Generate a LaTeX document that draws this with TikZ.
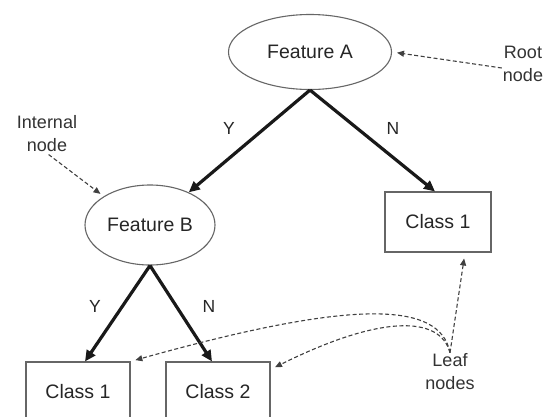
\documentclass[tikz,border=0pt]{standalone}
\usepackage{fontspec}
\setmainfont{Liberation Sans}
\usetikzlibrary{shapes.geometric,arrows.meta}
\begin{document}
\begin{tikzpicture}[x=1pt,y=-1pt,
  txt/.style={text=black!85, font=\fontsize{19.5}{22}\selectfont},
  feat/.style={ellipse, draw=black!60, line width=1.1pt, inner sep=0pt, txt},
  leafbox/.style={rectangle, draw=black!60, line width=1.1pt, minimum width=104pt, minimum height=60pt, inner sep=0pt, txt},
  branch/.style={line width=3.2pt, draw=black!90, -{Triangle[length=11pt,width=10pt]}},
  note/.style={dash pattern=on 4pt off 2.5pt, line width=1.1pt, draw=black!75, -{Triangle[length=7pt,width=6pt]}},
  lbl/.style={text=black!80, align=center, font=\fontsize{18}{23}\selectfont, inner sep=1pt},
  yn/.style={text=black!85, font=\fontsize{17.5}{20}\selectfont}]
\useasboundingbox (0,0) rectangle (544,416);
\fill[white] (0,0) rectangle (544,416);
\begin{scope}
\clip (0,0) rectangle (544,416);
\node[feat, minimum width=163pt, minimum height=75pt] (FA) at (310,52) {Feature A};
\node[feat, minimum width=130pt, minimum height=80pt] (FB) at (150,225) {Feature B};
\node[leafbox, minimum width=106pt] (C1R) at (438,222) {Class 1};
\node[leafbox] (C1L) at (78,392) {Class 1};
\node[leafbox] (C2) at (218,392) {Class 2};

\node[lbl] (Root) at (523,64) {Root\\node};
\node[lbl] (Internal) at (47,134) {Internal\\node};
\node[lbl] (Leaf) at (450,372) {Leaf\\nodes};

\draw[branch] (FA.south) -- (FB);
\draw[branch] (FA.south) -- ([xshift=-3pt]C1R.north);
\draw[branch] (FB.south) -- ([xshift=7pt]C1L.north);
\draw[branch] (FB.south) -- ([xshift=-6pt]C2.north);

\node[yn] (yA) at (229,128) {Y};
\node[yn] (nA) at (393,128) {N};
\node[yn] (yB) at (95,306) {Y};
\node[yn] (nB) at (209,306) {N};

\draw[note, shorten >=5pt] ([yshift=-4pt]Root.west) -- (FA.east);
\draw[note, shorten <=2pt, shorten >=4pt] (Internal.south) -- (FB.north west);
\draw[note, shorten >=6pt] (Leaf.north) -- ([xshift=27pt]C1R.south);
\draw[note, shorten >=5pt] (Leaf.north) .. controls (440,300) and (350,300) .. (C1L.north east);
\draw[note, shorten >=5pt] (Leaf.north) .. controls (440,315) and (380,315) .. ([yshift=-8pt]C2.north east);
\end{scope}
\end{tikzpicture}
\end{document}
